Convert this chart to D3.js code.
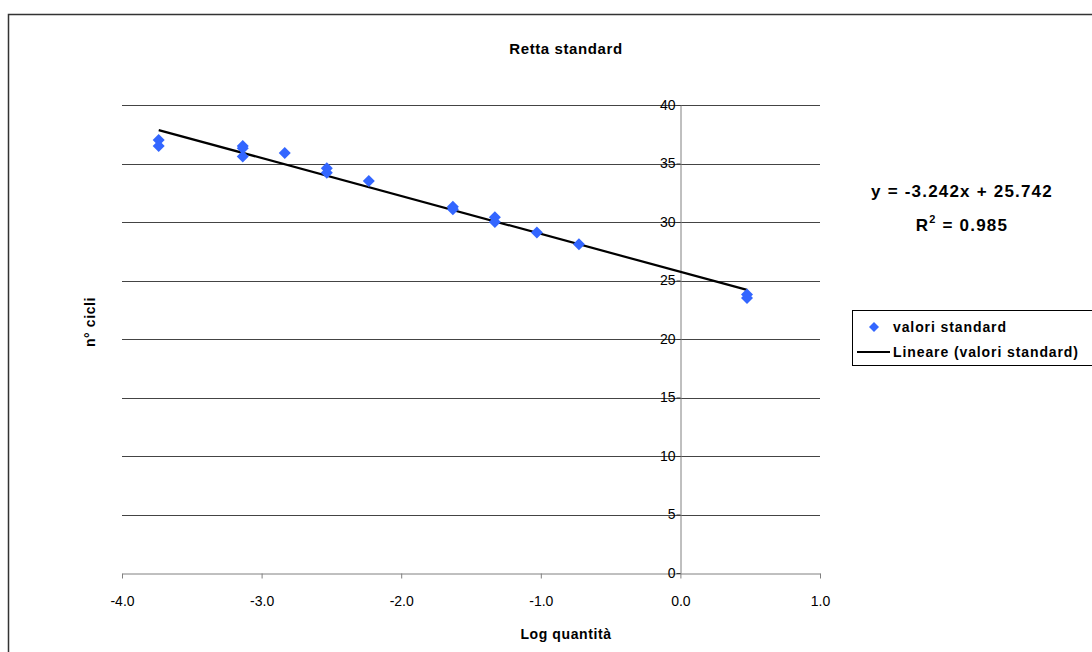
<!DOCTYPE html>
<html>
<head>
<meta charset="utf-8">
<script src="https://cdn.jsdelivr.net/npm/d3@7"></script>
<style>
  body { margin: 0; background: #fff; }
  svg { display: block; font-family: Arial, "Liberation Sans", sans-serif; }
</style>
</head>
<body>
<div id="chart"></div>
<script>
// Log quantity (x) and cycle number (y) of the standard points
const logQty = [-3.737, -3.737, -3.135, -3.135, -3.135, -2.834, -2.533, -2.533, -2.232,
                -1.630, -1.630, -1.329, -1.329, -1.028, -0.727, 0.477, 0.477];
const cycles = [37.0, 36.5, 36.5, 36.3, 35.6, 35.9, 34.6, 34.2, 33.5,
                31.3, 31.1, 30.4, 30.0, 29.1, 28.1, 23.8, 23.5];

// Linear trend (as reported on the chart)
const slope = -3.242;
const intercept = 25.742;
const rSquared = 0.985;

const xTicks = [-4, -3, -2, -1, 0, 1];
const yTicks = [0, 5, 10, 15, 20, 25, 30, 35, 40];

const WIDTH = 1092;
const HEIGHT = 652;
const PLOT = { left: 122, right: 820, top: 105, bottom: 573 };

const svg = d3.select("#chart")
    .append("svg")
    .attr("width", WIDTH)
    .attr("height", HEIGHT);

// Outer chart frame (runs off the right and bottom edge)
svg.append("rect")
    .attr("x", 8.5)
    .attr("y", 14.5)
    .attr("width", 1200)
    .attr("height", 800)
    .attr("fill", "none")
    .attr("stroke", "#333")
    .attr("stroke-width", 1.5);

const x = d3.scaleLinear().domain([-4, 1]).range([PLOT.left, PLOT.right]);
const y = d3.scaleLinear().domain([0, 40]).range([PLOT.bottom, PLOT.top]);

// Horizontal gridlines
svg.append("g")
    .selectAll("line")
    .data(yTicks.filter(d => d > 0))
    .enter()
    .append("line")
    .attr("x1", PLOT.left)
    .attr("x2", PLOT.right)
    .attr("y1", d => Math.round(y(d)) + 0.5)
    .attr("y2", d => Math.round(y(d)) + 0.5)
    .attr("stroke", "#444")
    .attr("stroke-width", 1);

// X axis along y = 0
const xAxis = svg.append("g")
    .attr("transform", `translate(0,${Math.round(y(0)) + 0.5})`)
    .call(d3.axisBottom(x).tickValues(xTicks).tickFormat(d => d.toFixed(1)).tickSize(5).tickSizeOuter(0));
xAxis.select(".domain").attr("stroke", "#808080");
xAxis.selectAll(".tick line").attr("stroke", "#808080");
xAxis.selectAll("text")
    .attr("dy", 0)
    .attr("y", 32)
    .style("font-size", "14px")
    .attr("fill", "#000");

// Y axis crossing at x = 0
const yAxis = svg.append("g")
    .attr("transform", `translate(${Math.round(x(0)) + 0.5},0)`)
    .call(d3.axisLeft(y).tickValues(yTicks).tickSize(4).tickSizeOuter(0));
yAxis.select(".domain").attr("stroke", "#808080");
yAxis.selectAll(".tick line").attr("stroke", "#333");
yAxis.selectAll("text")
    .attr("x", -5)
    .style("font-size", "14px")
    .attr("fill", "#000");

// Trendline over the range of the data
const xExt = d3.extent(logQty);
svg.append("line")
    .attr("x1", x(xExt[0]))
    .attr("y1", y(slope * xExt[0] + intercept))
    .attr("x2", x(xExt[1]))
    .attr("y2", y(slope * xExt[1] + intercept))
    .attr("stroke", "#000")
    .attr("stroke-width", 2.2);

// Diamond markers
const diamond = "M0,-6L6,0L0,6L-6,0Z";
svg.append("g")
    .selectAll("path")
    .data(logQty.map((v, i) => ({ x: v, y: cycles[i] })))
    .enter()
    .append("path")
    .attr("d", diamond)
    .attr("transform", d => `translate(${x(d.x)},${y(d.y)})`)
    .attr("fill", "#3366FF");

// Title and axis titles
svg.append("text")
    .attr("x", 566)
    .attr("y", 54)
    .attr("text-anchor", "middle")
    .style("font-size", "15px")
    .style("font-weight", "bold")
    .style("letter-spacing", "0.6px")
    .text("Retta standard");

svg.append("text")
    .attr("x", 566)
    .attr("y", 639)
    .attr("text-anchor", "middle")
    .style("font-size", "14px")
    .style("font-weight", "bold")
    .style("letter-spacing", "0.6px")
    .text("Log quantità");

svg.append("text")
    .attr("transform", "translate(95,322) rotate(-90)")
    .attr("text-anchor", "middle")
    .style("font-size", "14px")
    .style("font-weight", "bold")
    .style("letter-spacing", "0.6px")
    .text("n° cicli");

// Regression equation
svg.append("text")
    .attr("x", 962)
    .attr("y", 197)
    .attr("text-anchor", "middle")
    .style("font-size", "17px")
    .style("font-weight", "bold")
    .style("letter-spacing", "1.2px")
    .text(`y = ${slope.toFixed(3)}x + ${intercept.toFixed(3)}`);

const r2 = svg.append("text")
    .attr("x", 962)
    .attr("y", 231)
    .attr("text-anchor", "middle")
    .style("font-size", "17px")
    .style("font-weight", "bold")
    .style("letter-spacing", "1.2px");
r2.append("tspan").text("R");
r2.append("tspan").attr("dy", -8).style("font-size", "11px").text("2");
r2.append("tspan").attr("dy", 8).text(` = ${rSquared.toFixed(3)}`);

// Legend
const legend = svg.append("g");
legend.append("rect")
    .attr("x", 852.5)
    .attr("y", 310.5)
    .attr("width", 300)
    .attr("height", 55)
    .attr("fill", "#fff")
    .attr("stroke", "#000")
    .attr("stroke-width", 1);
legend.append("path")
    .attr("d", "M0,-5L5,0L0,5L-5,0Z")
    .attr("transform", "translate(874,327)")
    .attr("fill", "#3366FF");
legend.append("text")
    .attr("x", 893)
    .attr("y", 332)
    .style("font-size", "14px")
    .style("font-weight", "bold")
    .style("letter-spacing", "0.9px")
    .text("valori standard");
legend.append("line")
    .attr("x1", 857)
    .attr("x2", 890)
    .attr("y1", 352)
    .attr("y2", 352)
    .attr("stroke", "#000")
    .attr("stroke-width", 2);
legend.append("text")
    .attr("x", 893)
    .attr("y", 357)
    .style("font-size", "14px")
    .style("font-weight", "bold")
    .style("letter-spacing", "0.9px")
    .text("Lineare (valori standard)");
</script>
</body>
</html>
